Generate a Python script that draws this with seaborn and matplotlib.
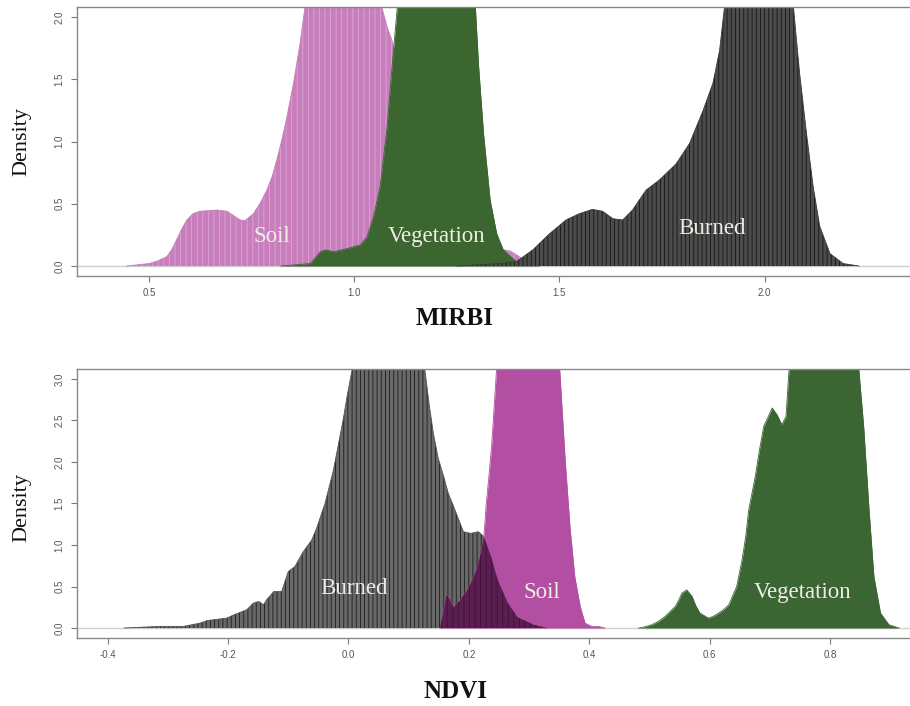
import numpy as np
import pandas as pd
import matplotlib
matplotlib.use("Agg")
import matplotlib.pyplot as plt
import seaborn as sns

# ---- MIRBI density curves (x, density) ----
mirbi_soil_x = [0.445, 0.50, 0.52, 0.543, 0.555, 0.567, 0.58, 0.592, 0.607, 0.624, 0.665, 0.69,
                0.722, 0.734, 0.754, 0.77, 0.787, 0.80, 0.811, 0.824, 0.836, 0.852, 0.868,
                0.88, 0.90, 0.95, 1.00, 1.05, 1.067, 1.08, 1.092, 1.12, 1.15, 1.20, 1.25,
                1.30, 1.35, 1.38, 1.40, 1.42, 1.45]
mirbi_soil_y = [0.0, 0.02, 0.04, 0.075, 0.13, 0.21, 0.30, 0.37, 0.42, 0.44, 0.45, 0.44,
                0.37, 0.365, 0.42, 0.50, 0.61, 0.72, 0.85, 1.02, 1.20, 1.47, 1.79,
                2.08, 2.35, 2.50, 2.50, 2.30, 2.08, 1.92, 1.81, 1.40, 1.00, 0.60, 0.35,
                0.20, 0.14, 0.12, 0.08, 0.03, 0.0]

mirbi_veg_x = [0.82, 0.893, 0.917, 0.93, 0.95, 0.982, 1.015, 1.031, 1.047, 1.063, 1.08,
               1.092, 1.104, 1.12, 1.20, 1.28, 1.295, 1.303, 1.315, 1.331, 1.347, 1.363,
               1.395, 1.45]
mirbi_veg_y = [0.0, 0.02, 0.115, 0.13, 0.115, 0.14, 0.17, 0.235, 0.40, 0.64, 1.12,
               1.60, 2.05, 2.60, 3.00, 2.60, 2.08, 1.60, 1.06, 0.53, 0.26, 0.13,
               0.035, 0.0]

mirbi_burn_x = [1.25, 1.30, 1.35, 1.395, 1.435, 1.476, 1.516, 1.548, 1.58, 1.605, 1.63,
                1.654, 1.678, 1.711, 1.743, 1.784, 1.817, 1.85, 1.874, 1.89, 1.902, 1.93,
                1.98, 2.03, 2.07, 2.085, 2.102, 2.118, 2.134, 2.159, 2.191, 2.23]
mirbi_burn_y = [0.0, 0.01, 0.02, 0.035, 0.13, 0.26, 0.37, 0.42, 0.455, 0.44, 0.38,
                0.37, 0.45, 0.61, 0.69, 0.82, 0.985, 1.25, 1.47, 1.73, 2.08, 2.45,
                2.60, 2.50, 2.08, 1.55, 1.06, 0.64, 0.32, 0.10, 0.02, 0.0]

# ---- NDVI density curves (x, density) ----
ndvi_burn_x = [-0.373, -0.313, -0.274, -0.246, -0.235, -0.202, -0.19, -0.169, -0.158,
               -0.149, -0.141, -0.136, -0.124, -0.111, -0.10, -0.089, -0.075, -0.061, -0.053,
               -0.039, -0.025, -0.017, -0.009, -0.002, 0.006, 0.03, 0.07, 0.11, 0.127, 0.134,
               0.141, 0.149, 0.158, 0.166, 0.175, 0.191, 0.203, 0.216, 0.225, 0.237, 0.248,
               0.265, 0.281, 0.308, 0.33]
ndvi_burn_y = [0.0, 0.02, 0.02, 0.06, 0.09, 0.12, 0.16, 0.22, 0.30,
               0.32, 0.28, 0.34, 0.44, 0.44, 0.68, 0.74, 0.92, 1.06, 1.20,
               1.50, 1.90, 2.20, 2.50, 2.80, 3.11, 3.60, 3.80, 3.60, 3.11, 2.70,
               2.35, 2.05, 1.83, 1.62, 1.46, 1.16, 1.14, 1.16, 1.10, 0.86, 0.58,
               0.30, 0.13, 0.04, 0.0]

ndvi_soil_x = [0.152, 0.158, 0.163, 0.168, 0.175, 0.185, 0.198, 0.211, 0.22, 0.225,
               0.229, 0.233, 0.238, 0.246, 0.26, 0.30, 0.34, 0.351, 0.36, 0.368, 0.376,
               0.385, 0.393, 0.404, 0.415, 0.426]
ndvi_soil_y = [0.0, 0.20, 0.40, 0.35, 0.25, 0.33, 0.46, 0.66, 0.90, 1.10,
               1.50, 1.80, 2.20, 3.11, 4.50, 5.00, 4.50, 3.11, 2.03, 1.22, 0.62,
               0.26, 0.06, 0.02, 0.02, 0.0]

ndvi_veg_x = [0.482, 0.49, 0.504, 0.515, 0.526, 0.543, 0.549, 0.554, 0.562, 0.571, 0.577,
              0.584, 0.598, 0.606, 0.615, 0.623, 0.632, 0.645, 0.654, 0.66, 0.665, 0.676,
              0.683, 0.69, 0.704, 0.712, 0.72, 0.727, 0.732, 0.75, 0.80, 0.84, 0.848, 0.856,
              0.865, 0.873, 0.884, 0.898, 0.915]
ndvi_veg_y = [0.0, 0.01, 0.04, 0.08, 0.14, 0.26, 0.34, 0.42, 0.46, 0.38, 0.27,
              0.18, 0.12, 0.14, 0.18, 0.22, 0.28, 0.50, 0.82, 1.10, 1.42, 1.83,
              2.15, 2.43, 2.65, 2.57, 2.45, 2.55, 3.11, 3.60, 3.80, 3.60, 3.11, 2.43,
              1.42, 0.62, 0.18, 0.04, 0.0]

classes = ["Soil", "Vegetation", "Burned"]

sns.set_theme(style="white")
plt.rcParams["hatch.linewidth"] = 0.6

SERIF = ["Liberation Serif", "DejaVu Serif"]
SANS = ["Liberation Sans", "DejaVu Sans"]

fig = plt.figure(figsize=(9.10, 7.06), dpi=100)
W, H = 910.0, 706.0
ax1 = fig.add_axes([77 / W, 1 - 276 / H, 833 / W, 269 / H])
ax2 = fig.add_axes([77 / W, 1 - 638 / H, 833 / W, 269 / H])


def curve_frame(xs, ys, names):
    parts = []
    for x, y, n in zip(xs, ys, names):
        parts.append(pd.DataFrame({"x": x, "density": y, "cls": n}))
    return pd.concat(parts, ignore_index=True)


def draw_curve(ax, df, name, face, line, hatch=None, hatch_color=None, z=1):
    d = df[df["cls"] == name]
    kw = dict(facecolor=face, linewidth=0, zorder=z)
    if hatch:
        kw.update(hatch=hatch, edgecolor=hatch_color)
    ax.fill_between(d["x"], 0, d["density"], **kw)
    sns.lineplot(data=d, x="x", y="density", color=line, lw=0.6, estimator=None,
                 sort=False, legend=False, ax=ax, zorder=z + 0.1)


def style_axes(ax, xlim, ylim, xticks, yticks):
    ax.set_xlim(*xlim)
    ax.set_ylim(*ylim)
    ax.set_xticks(xticks)
    ax.set_yticks(yticks)
    ax.set_xticklabels([f"{t:.1f}" for t in xticks], fontsize=7, color="#555555",
                       family=SANS)
    ax.set_yticklabels([f"{t:.1f}" for t in yticks], fontsize=7, color="#555555",
                       family=SANS, rotation=90, va="center")
    ax.tick_params(axis="both", direction="out", length=4, width=0.8, color="#777777",
                   bottom=True, left=True, pad=5)
    for side in ("left", "bottom", "top"):
        ax.spines[side].set_color("#888888")
        ax.spines[side].set_linewidth(1.0)
        ax.spines[side].set_zorder(10)
    ax.spines["right"].set_visible(False)
    ax.set_xlabel("")
    ax.set_ylabel("")
    ax.axhline(0, color="#d0d0d0", lw=1.0, zorder=0.5)


# ---------------- MIRBI ----------------
top = curve_frame([mirbi_soil_x, mirbi_veg_x, mirbi_burn_x],
                  [mirbi_soil_y, mirbi_veg_y, mirbi_burn_y], classes)
draw_curve(ax1, top, "Soil", "#C87DBC", "#C87DBC", hatch="|||", hatch_color="#DDA8D4", z=1)
draw_curve(ax1, top, "Vegetation", "#3B6630", "#3B6630", z=2)
draw_curve(ax1, top, "Burned", "#4C4C4C", "#3a3a3a", hatch="||||", hatch_color="#151515", z=3)
style_axes(ax1, (0.3244, 2.354), (-0.08, 2.08), [0.5, 1.0, 1.5, 2.0],
           [0.0, 0.5, 1.0, 1.5, 2.0])

lab = dict(color="#EEEEE6", fontsize=16.5, family=SERIF, ha="center", va="center", zorder=6)
ax1.text(0.8, 0.24, "Soil", **lab)
ax1.text(1.2, 0.24, "Vegetation", **lab)
ax1.text(1.871, 0.30, "Burned", **lab)

# ---------------- NDVI ----------------
bot = curve_frame([ndvi_soil_x, ndvi_veg_x, ndvi_burn_x],
                  [ndvi_soil_y, ndvi_veg_y, ndvi_burn_y], classes)
draw_curve(ax2, bot, "Burned", "#686868", "#555555", hatch="||||", hatch_color="#1c1c1c", z=1)
draw_curve(ax2, bot, "Soil", "#B24FA2", "#B24FA2", z=2)
# shared area of Burned and Soil
grid = np.union1d(ndvi_burn_x, ndvi_soil_x)
shared = np.minimum(np.interp(grid, ndvi_burn_x, ndvi_burn_y, left=0, right=0),
                    np.interp(grid, ndvi_soil_x, ndvi_soil_y, left=0, right=0))
ax2.fill_between(grid, 0, shared, facecolor="#5A1E51", linewidth=0, hatch="|||",
                 edgecolor="#3e123a", zorder=3)
draw_curve(ax2, bot, "Vegetation", "#3B6633", "#3B6633", z=3)
style_axes(ax2, (-0.451, 0.933), (-0.12, 3.12), [-0.4, -0.2, 0.0, 0.2, 0.4, 0.6, 0.8],
           [0.0, 0.5, 1.0, 1.5, 2.0, 2.5, 3.0])

ax2.text(0.01, 0.48, "Burned", **lab)
ax2.text(0.322, 0.43, "Soil", **lab)
ax2.text(0.755, 0.43, "Vegetation", **lab)

# axis titles
fig.text(455 / W, 1 - 318 / H, "MIRBI", fontsize=18, fontweight="bold", family=SERIF,
         ha="center", va="center", color="#111111")
fig.text(455 / W, 1 - 692 / H, "NDVI", fontsize=18, fontweight="bold", family=SERIF,
         ha="center", va="center", color="#111111")
fig.text(22 / W, 1 - 142 / H, "Density", fontsize=16, family=SERIF, rotation=90,
         ha="center", va="center", color="#111111")
fig.text(22 / W, 1 - 508 / H, "Density", fontsize=16, family=SERIF, rotation=90,
         ha="center", va="center", color="#111111")

fig.savefig("out.png", dpi=100, facecolor="white")
